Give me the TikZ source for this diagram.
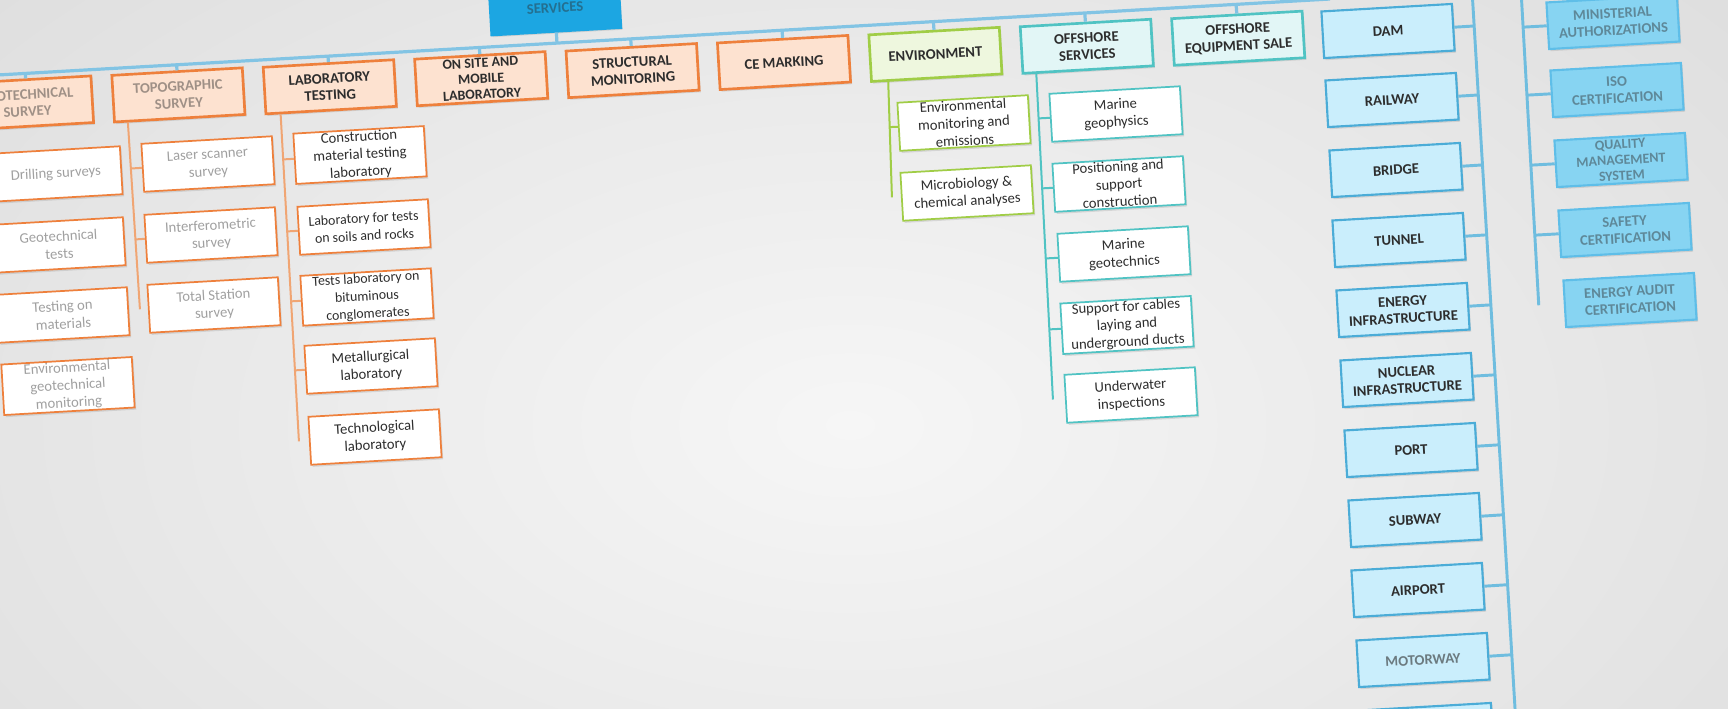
\documentclass[tikz,border=0pt]{standalone}
\usepackage{fontspec}
\setmainfont{Carlito}
\usetikzlibrary{calc,shadows}
\definecolor{bgmid}{RGB}{246,246,246}
\definecolor{bgedge}{RGB}{200,200,200}
\definecolor{ink}{RGB}{45,45,45}
\definecolor{orgline}{RGB}{238,128,60}
\definecolor{orgfill}{RGB}{253,226,208}
\definecolor{orgbusc}{RGB}{240,165,115}
\definecolor{grnline}{RGB}{160,205,70}
\definecolor{grnfill}{RGB}{238,247,222}
\definecolor{tealline}{RGB}{80,195,195}
\definecolor{tealfill}{RGB}{226,246,246}
\definecolor{blueline}{RGB}{75,172,215}
\definecolor{bluefill}{RGB}{202,238,252}
\definecolor{deepline}{RGB}{95,190,232}
\definecolor{deepfill}{RGB}{135,212,242}
\definecolor{servfill}{RGB}{28,166,226}
\definecolor{busc}{RGB}{130,196,228}
\begin{document}
\begin{tikzpicture}[x=0.75pt,y=0.75pt,yscale=-1,xscale=1,
  tilt/.style={rotate=3.3},
  boxshadow/.style={drop shadow={shadow xshift=1.2pt,shadow yshift=-1.6pt,opacity=0.22}},
  headbox/.style={tilt,boxshadow,draw,line width=2pt,minimum width=98pt,minimum height=35pt,inner sep=1pt,align=center,text=ink,font=\bfseries\fontsize{11}{12.6}\selectfont},
  threeline/.style={font=\bfseries\fontsize{10.5}{11.8}\selectfont},
  orghead/.style={headbox,draw=orgline,fill=orgfill},
  grnhead/.style={headbox,draw=grnline,fill=grnfill},
  tealhead/.style={headbox,draw=tealline,fill=tealfill},
  bluehead/.style={headbox,line width=1.6pt,draw=blueline,fill=bluefill},
  deephead/.style={headbox,line width=1.6pt,draw=deepline,fill=deepfill},
  itembox/.style={tilt,boxshadow,draw,fill=white,line width=1.3pt,minimum width=98pt,minimum height=36pt,inner sep=1pt,align=center,text=ink,font=\fontsize{11}{13.2}\selectfont},
  widetext/.style={font=\fontsize{10.4}{13.2}\selectfont},
  orgitem/.style={itembox,draw=orgline},
  grnitem/.style={itembox,draw=grnline},
  tealitem/.style={itembox,draw=tealline},
  hazy/.style={text opacity=0.45},
  mainbus/.style={draw=busc,line width=2.4pt},
  orgbus/.style={draw=orgbusc,line width=1.5pt},
  grnbus/.style={draw=grnline,line width=1.5pt},
  tealbus/.style={draw=tealline,line width=1.5pt},
  bluebus/.style={draw=blueline!80,line width=2.2pt}]
\useasboundingbox (0,0) rectangle (1728,708);
\clip (0,0) rectangle (1728,708);

%Shape: Background
\shade [inner color=bgmid,outer color=bgedge] (-1400,-900) rectangle (3100,1750);

%Shape: Rectangle [top]
\node [headbox,draw=servfill,fill=servfill,hazy,minimum width=97pt] (serv) at (555,8) {SERVICES};

%Shape: Rectangle [first level]
\node [orghead,hazy] (geo) at (27,103) {GEOTECHNICAL\\SURVEY};
\node [orghead,hazy] (topo) at (178.4,94.9) {TOPOGRAPHIC\\SURVEY};
\node [orghead] (lab) at (329.8,86.8) {LABORATORY\\TESTING};
\node [orghead,threeline] (onsite) at (481.2,78.7) {ON SITE AND\\MOBILE\\LABORATORY};
\node [orghead] (struct) at (632.6,70.6) {STRUCTURAL\\MONITORING};
\node [orghead] (cemark) at (784,62.5) {CE MARKING};
\node [grnhead] (env) at (935.4,54.4) {ENVIRONMENT};
\node [tealhead] (offs) at (1086.8,46.3) {OFFSHORE\\SERVICES};
\node [tealhead] (offeq) at (1238.2,38.2) {OFFSHORE\\EQUIPMENT SALE};

%Straight Lines [main bus]
\coordinate (busL) at (-20,76);
\coordinate (busR) at (1330,-1);
\draw [mainbus] (busL) -- (busR);
\draw [mainbus] (serv.south) -- ($(busL)!(serv.south)!(busR)$);
\draw [mainbus] (geo.north) -- ($(busL)!(geo.north)!(busR)$);
\draw [mainbus] (topo.north) -- ($(busL)!(topo.north)!(busR)$);
\draw [mainbus] (lab.north) -- ($(busL)!(lab.north)!(busR)$);
\draw [mainbus] (onsite.north) -- ($(busL)!(onsite.north)!(busR)$);
\draw [mainbus] (struct.north) -- ($(busL)!(struct.north)!(busR)$);
\draw [mainbus] (cemark.north) -- ($(busL)!(cemark.north)!(busR)$);
\draw [mainbus] (env.north) -- ($(busL)!(env.north)!(busR)$);
\draw [mainbus] (offs.north) -- ($(busL)!(offs.north)!(busR)$);
\draw [mainbus] (offeq.north) -- ($(busL)!(offeq.north)!(busR)$);

%Shape: Rectangle [geotechnical items]
\node [orgitem,hazy] (drill) at (56,174) {Drilling surveys};
\node [orgitem,hazy] (geotest) at (59,245) {Geotechnical\\tests};
\node [orgitem,hazy] (mattest) at (63,315) {Testing on\\materials};
\node [orgitem,hazy] (geomon) at (68,386) {Environmental\\geotechnical\\monitoring};
\coordinate (geoT) at ($(geo.south west)!0.13!(geo.south east)$);
\coordinate (geoB) at ($(geomon.west)+(176.7:10)$);
\draw [orgbus] (geoT) -- (geoB);
\draw [orgbus] (drill.west) -- ($(geoT)!(drill.west)!(geoB)$);
\draw [orgbus] (geotest.west) -- ($(geoT)!(geotest.west)!(geoB)$);
\draw [orgbus] (mattest.west) -- ($(geoT)!(mattest.west)!(geoB)$);

%Shape: Rectangle [topographic items]
\node [orgitem,hazy] (laser) at (208,164) {Laser scanner\\survey};
\node [orgitem,hazy] (interf) at (211,235) {Interferometric\\survey};
\node [orgitem,hazy] (total) at (214,305) {Total Station\\survey};
\coordinate (topoT) at ($(topo.south west)!0.11!(topo.south east)$);
\coordinate (topoB) at ($(total.west)+(176.7:8)$);
\draw [orgbus] (topoT) -- (topoB);
\draw [orgbus] (laser.west) -- ($(topoT)!(laser.west)!(topoB)$);
\draw [orgbus] (interf.west) -- ($(topoT)!(interf.west)!(topoB)$);

%Shape: Rectangle [laboratory items]
\node [orgitem] (constr) at (360,155) {Construction\\material testing\\laboratory};
\node [orgitem,widetext] (soils) at (364,227) {Laboratory for tests\\on soils and rocks};
\node [orgitem,widetext] (bitum) at (367,297) {Tests laboratory on\\bituminous\\conglomerates};
\node [orgitem] (metal) at (371,366) {Metallurgical\\laboratory};
\node [orgitem] (techno) at (375,437) {Technological\\laboratory};
\coordinate (labT) at ($(lab.south west)!0.12!(lab.south east)$);
\coordinate (labB) at ($(techno.west)+(176.7:10)$);
\draw [orgbus] (labT) -- (labB);
\draw [orgbus] (constr.west) -- ($(labT)!(constr.west)!(labB)$);
\draw [orgbus] (soils.west) -- ($(labT)!(soils.west)!(labB)$);
\draw [orgbus] (bitum.west) -- ($(labT)!(bitum.west)!(labB)$);
\draw [orgbus] (metal.west) -- ($(labT)!(metal.west)!(labB)$);

%Shape: Rectangle [environment items]
\node [grnitem] (envmon) at (964,123) {Environmental\\monitoring and\\emissions};
\node [grnitem] (micro) at (967,193) {Microbiology \&\\chemical analyses};
\coordinate (envT) at ($(env.south west)!0.135!(env.south east)$);
\coordinate (envB) at ($(micro.west)+(176.7:9)$);
\draw [grnbus] (envT) -- (envB);
\draw [grnbus] (envmon.west) -- ($(envT)!(envmon.west)!(envB)$);

%Shape: Rectangle [offshore items]
\node [tealitem] (geoph) at (1116,114) {Marine\\geophysics};
\node [tealitem] (posit) at (1119,184) {Positioning and\\support\\construction};
\node [tealitem] (geotech) at (1124,254) {Marine\\geotechnics};
\node [tealitem] (cables) at (1127,325) {Support for cables\\laying and\\underground ducts};
\node [tealitem] (under) at (1131,395) {Underwater\\inspections};
\coordinate (offsT) at ($(offs.south west)!0.11!(offs.south east)$);
\coordinate (offsB) at ($(under.west)+(176.7:12)$);
\draw [tealbus] (offsT) -- (offsB);
\draw [tealbus] (geoph.west) -- ($(offsT)!(geoph.west)!(offsB)$);
\draw [tealbus] (posit.west) -- ($(offsT)!(posit.west)!(offsB)$);
\draw [tealbus] (geotech.west) -- ($(offsT)!(geotech.west)!(offsB)$);
\draw [tealbus] (cables.west) -- ($(offsT)!(cables.west)!(offsB)$);

%Shape: Rectangle [sectors]
\node [bluehead] (dam) at (1388,31) {DAM};
\node [bluehead] (railway) at (1392,100) {RAILWAY};
\node [bluehead] (bridge) at (1396,170) {BRIDGE};
\node [bluehead] (tunnel) at (1399,240) {TUNNEL};
\node [bluehead] (energy) at (1403,310) {ENERGY\\INFRASTRUCTURE};
\node [bluehead] (nuclear) at (1407,380) {NUCLEAR\\INFRASTRUCTURE};
\node [bluehead] (port) at (1411,450) {PORT};
\node [bluehead] (subway) at (1415,520) {SUBWAY};
\node [bluehead] (airport) at (1418,590) {AIRPORT};
\node [bluehead,text opacity=0.6] (motorway) at (1423,660) {MOTORWAY};
\node [bluehead] (nextsec) at (1427,730) {};
\coordinate (secT) at (1472,-10);
\coordinate (secB) at (1516,725);
\draw [bluebus] (secT) -- (secB);
\draw [bluebus] (dam.east) -- ($(secT)!(dam.east)!(secB)$);
\draw [bluebus] (railway.east) -- ($(secT)!(railway.east)!(secB)$);
\draw [bluebus] (bridge.east) -- ($(secT)!(bridge.east)!(secB)$);
\draw [bluebus] (tunnel.east) -- ($(secT)!(tunnel.east)!(secB)$);
\draw [bluebus] (energy.east) -- ($(secT)!(energy.east)!(secB)$);
\draw [bluebus] (nuclear.east) -- ($(secT)!(nuclear.east)!(secB)$);
\draw [bluebus] (port.east) -- ($(secT)!(port.east)!(secB)$);
\draw [bluebus] (subway.east) -- ($(secT)!(subway.east)!(secB)$);
\draw [bluebus] (airport.east) -- ($(secT)!(airport.east)!(secB)$);
\draw [bluebus] (motorway.east) -- ($(secT)!(motorway.east)!(secB)$);
\draw [bluebus] (nextsec.east) -- ($(secT)!(nextsec.east)!(secB)$);

%Shape: Rectangle [certifications]
\node [deephead,hazy] (auth) at (1613,22) {MINISTERIAL\\AUTHORIZATIONS};
\node [deephead,hazy] (iso) at (1617,90) {ISO\\CERTIFICATION};
\node [deephead,hazy,threeline] (quality) at (1621,160) {QUALITY\\MANAGEMENT\\SYSTEM};
\node [deephead,hazy] (safety) at (1625,230) {SAFETY\\CERTIFICATION};
\node [deephead,hazy] (audit) at (1630,300) {ENERGY AUDIT\\CERTIFICATION};
\coordinate (certT) at (1521,-10);
\coordinate (certB) at ($(audit.west)+(176.7:25)$);
\draw [bluebus] (certT) -- (certB);
\draw [bluebus] (auth.west) -- ($(certT)!(auth.west)!(certB)$);
\draw [bluebus] (iso.west) -- ($(certT)!(iso.west)!(certB)$);
\draw [bluebus] (quality.west) -- ($(certT)!(quality.west)!(certB)$);
\draw [bluebus] (safety.west) -- ($(certT)!(safety.west)!(certB)$);

\end{tikzpicture}
\end{document}
